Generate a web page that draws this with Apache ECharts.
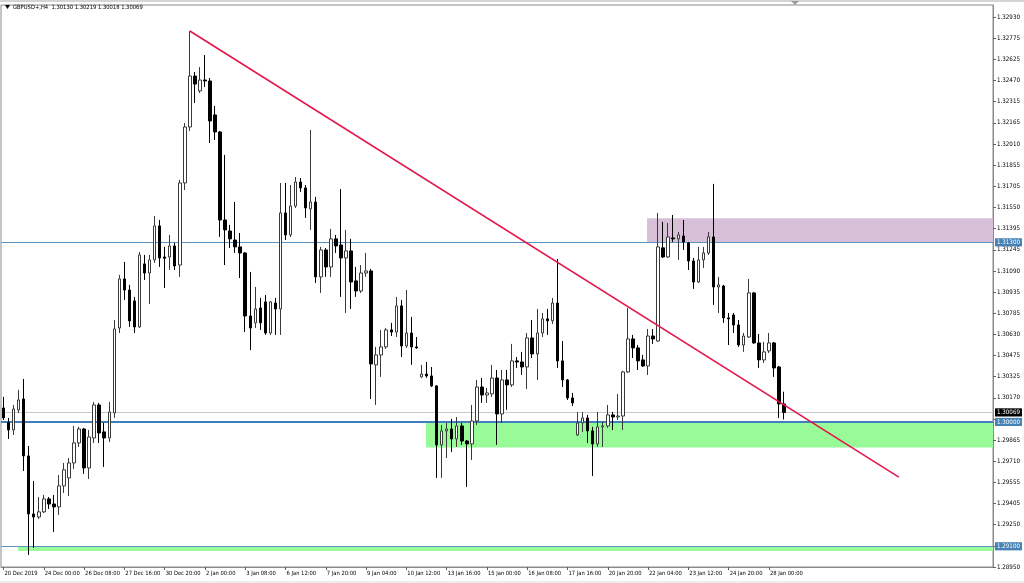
<!DOCTYPE html>
<html><head><meta charset="utf-8">
<script src="https://cdn.jsdelivr.net/npm/echarts@6/dist/echarts.min.js"></script>
<style>html,body{margin:0;padding:0;background:#fff;}#chart{width:1024px;height:583px;}</style>
</head><body><div id="chart"></div>
<script>
const symbolName = 'GBPUSD+,H4';
const xTickLabels = ['20 Dec 2019','24 Dec 00:00','26 Dec 08:00','27 Dec 16:00','30 Dec 20:00','2 Jan 00:00','3 Jan 08:00','6 Jan 12:00','7 Jan 20:00','9 Jan 04:00','10 Jan 12:00','13 Jan 16:00','15 Jan 00:00','16 Jan 08:00','17 Jan 16:00','20 Jan 20:00','22 Jan 04:00','23 Jan 12:00','24 Jan 20:00','28 Jan 00:00'];
const barsPerLabel = 8;
const yTickLabels = ['1.28950','','1.29250','1.29405','1.29555','1.29710','1.29865','','1.30170','1.30325','1.30475','1.30630','1.30785','1.30935','1.31090','1.31245','1.31395','1.31550','1.31705','1.31855','1.32010','1.32165','1.32315','1.32470','1.32625','1.32775','1.32930'];

const opens = [
1.30101,1.29995,1.29942,1.30087,1.30166,1.29754,1.29334,1.29312,1.29349,1.29443,
1.29406,1.29385,1.29537,1.29595,1.29703,1.29848,1.29949,1.29667,1.29884,1.30123,
1.29928,1.29884,1.30065,1.30680,1.31035,1.30955,1.30876,1.30688,1.31144,1.31078,
1.31173,1.31419,1.31194,1.31194,1.31274,1.31136,1.31730,1.32135,1.32504,1.32396,
1.32475,1.32468,1.32222,1.32099,1.31462,1.31382,1.31317,1.31267,1.31223,1.30767,
1.30717,1.30825,1.30869,1.30644,1.30861,1.30818,1.31513,1.31354,1.31563,1.31737,
1.31694,1.31542,1.31592,1.31050,1.31245,1.31122,1.31325,1.31281,1.31187,1.31238,
1.31021,1.30948,1.31078,1.31093,1.30413,1.30485,1.30543,1.30666,1.30651,1.30840,
1.30550,1.30644,1.30543,1.30326,1.30347,1.30333,1.30261,1.29834,1.29935,1.29949,
1.29877,1.29971,1.29862,1.29841,1.30007,1.30253,1.30195,1.30203,1.30318,1.30058,
1.30304,1.30268,1.30442,1.30434,1.30398,1.30608,1.30492,1.30644,1.30746,1.30732,
1.30861,1.30442,1.30304,1.30174,1.29906,1.29993,1.30029,1.29935,1.29841,1.29964,
1.29971,1.30051,1.30036,1.30043,1.30362,1.30601,1.30536,1.30449,1.30405,1.30622,
1.30586,1.31260,1.31194,1.31332,1.31325,1.31346,1.31296,1.31165,1.31013,1.31173,
1.31223,1.31339,1.30977,1.30984,1.30753,1.30774,1.30702,1.30557,1.30615,1.30934,
1.30572,1.30449,1.30514,1.30572,1.30398,1.30130];
const highs = [
1.30181,1.30029,1.30123,1.30232,1.30311,1.29826,1.29573,1.29457,1.29472,1.29457,
1.29472,1.29616,1.29703,1.29739,1.29971,1.29964,1.29957,1.29942,1.30145,1.30138,
1.29993,1.30145,1.30738,1.31064,1.31158,1.30992,1.30905,1.31230,1.31209,1.31209,
1.31491,1.31462,1.31267,1.31354,1.31296,1.31752,1.32164,1.32830,1.32533,1.32569,
1.32656,1.32490,1.32287,1.32106,1.31933,1.31426,1.31592,1.31368,1.31230,1.31086,
1.30977,1.30898,1.30919,1.30875,1.30898,1.31730,1.31730,1.31715,1.31773,1.31766,
1.31715,1.32113,1.31629,1.31267,1.31259,1.31397,1.31354,1.31686,1.31390,1.31325,
1.31122,1.31136,1.31223,1.31107,1.30543,1.30666,1.30680,1.30717,1.30905,1.30883,
1.30955,1.30760,1.30615,1.30413,1.30434,1.30398,1.30265,1.29978,1.29993,1.30022,
1.30036,1.29993,1.29870,1.30123,1.30304,1.30318,1.30246,1.30413,1.30376,1.30376,
1.30376,1.30565,1.30470,1.30507,1.30644,1.30738,1.30818,1.30789,1.30818,1.30898,
1.31180,1.30586,1.30311,1.30210,1.30072,1.30072,1.30051,1.29964,1.30072,1.30000,
1.30123,1.30072,1.30203,1.30370,1.30825,1.30630,1.30557,1.30485,1.30673,1.30673,
1.31513,1.31448,1.31440,1.31498,1.31375,1.31462,1.31303,1.31187,1.31267,1.31267,
1.31375,1.31723,1.31050,1.30992,1.30789,1.30789,1.30738,1.30644,1.31035,1.30941,
1.30637,1.30579,1.30644,1.30579,1.30405,1.30219];
const lows = [
1.30014,1.29877,1.29906,1.30065,1.29645,1.29037,1.29088,1.29298,1.29341,1.29370,
1.29204,1.29327,1.29486,1.29464,1.29660,1.29819,1.29624,1.29587,1.29848,1.29848,
1.29674,1.29855,1.30029,1.30644,1.30883,1.30688,1.30644,1.30680,1.31028,1.30854,
1.31151,1.31122,1.30970,1.31100,1.31100,1.31050,1.31679,1.32106,1.32309,1.32381,
1.32425,1.32019,1.32041,1.31339,1.31136,1.31259,1.31223,1.31042,1.30651,1.30521,
1.30680,1.30666,1.30630,1.30630,1.30630,1.30630,1.31317,1.31339,1.31549,1.31665,
1.31477,1.31390,1.31006,1.30934,1.31050,1.31050,1.31223,1.30905,1.30789,1.30818,
1.30905,1.30934,1.31050,1.30166,1.30123,1.30326,1.30528,1.30622,1.30615,1.30470,
1.30536,1.30413,1.30530,1.30320,1.30320,1.30253,1.29595,1.29595,1.29739,1.29783,
1.29819,1.29834,1.29530,1.29725,1.29978,1.30138,1.30138,1.30181,1.29834,1.29993,
1.30087,1.30253,1.30391,1.30340,1.30239,1.30463,1.30304,1.30615,1.30630,1.30709,
1.30391,1.30253,1.30159,1.30116,1.29899,1.29928,1.29848,1.29609,1.29819,1.29819,
1.29957,1.29942,1.30014,1.29942,1.30355,1.30463,1.30376,1.30398,1.30340,1.30565,
1.30580,1.31187,1.31187,1.31303,1.31173,1.31245,1.31100,1.30963,1.31006,1.31115,
1.31209,1.30847,1.30789,1.30717,1.30557,1.30644,1.30543,1.30507,1.30608,1.30565,
1.30391,1.30427,1.30499,1.30326,1.30029,1.30018];
const closes = [
1.30029,1.29942,1.30094,1.30159,1.29754,1.29334,1.29312,1.29349,1.29443,1.29406,
1.29385,1.29537,1.29653,1.29703,1.29848,1.29949,1.29667,1.29891,1.30123,1.29920,
1.29884,1.30072,1.30673,1.31035,1.30955,1.30731,1.30688,1.31209,1.31078,1.31173,
1.31419,1.31187,1.31185,1.31274,1.31129,1.31730,1.32135,1.32504,1.32446,1.32475,
1.32468,1.32179,1.32099,1.31462,1.31390,1.31325,1.31267,1.31223,1.30767,1.30680,
1.30818,1.30717,1.30644,1.30869,1.30818,1.31513,1.31354,1.31563,1.31737,1.31694,
1.31549,1.31592,1.31050,1.31245,1.31122,1.31325,1.31274,1.31187,1.31238,1.31013,
1.30948,1.31078,1.31093,1.30420,1.30485,1.30543,1.30666,1.30651,1.30840,1.30550,
1.30644,1.30543,1.30536,1.30347,1.30333,1.30261,1.29834,1.29935,1.29949,1.29877,
1.29971,1.29862,1.29841,1.30007,1.30253,1.30195,1.30210,1.30318,1.30058,1.30304,
1.30268,1.30442,1.30434,1.30398,1.30608,1.30492,1.30644,1.30746,1.30732,1.30861,
1.30442,1.30304,1.30174,1.30138,1.29993,1.30029,1.29935,1.29841,1.29964,1.29971,
1.30051,1.30036,1.30043,1.30362,1.30601,1.30536,1.30442,1.30405,1.30622,1.30601,
1.31267,1.31194,1.31339,1.31325,1.31354,1.31303,1.31165,1.31013,1.31173,1.31223,
1.31339,1.30977,1.30992,1.30753,1.30746,1.30702,1.30557,1.30622,1.30934,1.30572,
1.30449,1.30507,1.30572,1.30391,1.30130,1.30069];

const blueLevels = [1.31300, 1.30000, 1.29100];
const bidPrice = 1.30069;
const resistanceZone = {fromBar: 128.3, top: 1.31475, bottom: 1.31300};
const supportZone = {fromBar: 84.4, top: 1.30000, bottom: 1.29815};
const lowStrip = {fromBar: 3.4, top: 1.29100, bottom: 1.29065};
const trendStart = {bar: 37.5, price: 1.32830};
const trendEnd = {bar: 178.3, price: 1.29601};
const slotCount = 197;
const priceMin = 1.28950, priceMax = 1.33018, tickStep = 0.0015308;

// ---- font selection (installed fonts only) ----
const ctx = document.createElement('canvas').getContext('2d');
function hasFont(f) {
  const probe = '24 Dec 00:00 1.32930 GBPUSD';
  ctx.font = '40px monospace'; const a = ctx.measureText(probe).width;
  ctx.font = '40px "' + f + '", monospace'; const b = ctx.measureText(probe).width;
  return Math.abs(a - b) > 0.5;
}
const fam = ['Liberation Sans Narrow', 'DejaVu Sans Condensed', 'Liberation Sans'].find(hasFont) || 'sans-serif';
function fit(text, target, maxSize) {
  ctx.font = '100px "' + fam + '"';
  return Math.min(maxSize, 100 * target / ctx.measureText(text).width);
}
const fx = fit('24 Dec 00:00', 35, 7.5);
const fy = fit('1.32930', 23, 7.5);
const last = closes.length - 1;
const titleText = symbolName + '  ' + [opens[last], highs[last], lows[last], closes[last]].map(v => v.toFixed(5)).join(' ');
const ft = fit(titleText, 130, 7.5);

const categories = Array.from({length: slotCount}, (_, i) => String(i));
const candleData = opens.map((o, i) => [o, closes[i], lows[i], highs[i]]);
const showTick = (idx) => idx % barsPerLabel === 0 && idx / barsPerLabel < xTickLabels.length;

function lvlLabel(bg) {
  return {show: true, position: 'end', distance: 2, formatter: p => Number(p.value).toFixed(5),
    color: '#ffffff', backgroundColor: bg, padding: [1, 2, 0, 2], fontSize: fy, fontFamily: fam, lineHeight: fy + 1};
}

const chart = echarts.init(document.getElementById('chart'), null, {renderer: 'canvas'});
chart.setOption({
  animation: false,
  backgroundColor: '#ffffff',
  grid: {left: 1, right: 31, top: 5, bottom: 16, show: true, borderColor: '#8a8a8a', borderWidth: 1, containLabel: false},
  xAxis: [
    {type: 'category', data: categories, boundaryGap: true,
     axisLine: {show: true, lineStyle: {color: '#8a8a8a'}},
     axisTick: {show: true, interval: showTick, alignWithLabel: true, length: 3, lineStyle: {color: '#606060'}},
     axisLabel: {interval: showTick, formatter: (v, i) => xTickLabels[i / barsPerLabel] || '', align: 'left',
                 margin: 3, fontSize: fx, fontFamily: fam, color: '#000000', padding: [0, 0, 0, 1]},
     splitLine: {show: false}},
    {type: 'value', min: 0, max: slotCount, show: false}
  ],
  yAxis: [
    {type: 'value', min: priceMin, max: priceMax, show: false},
    {type: 'value', position: 'right', min: 0, max: (priceMax - priceMin) / tickStep, interval: 1,
     axisLine: {show: true, lineStyle: {color: '#8a8a8a'}},
     axisTick: {show: true, length: 3, lineStyle: {color: '#606060'}},
     axisLabel: {margin: 4, fontSize: fy, fontFamily: fam, color: '#000000', showMaxLabel: false, showMinLabel: true, hideOverlap: false,
       formatter: v => { const k = Math.round(v); return Math.abs(v - k) < 1e-6 ? (yTickLabels[k] || '') : ''; }},
     splitLine: {show: false}}
  ],
  series: [
    {type: 'line', name: 'levels', xAxisIndex: 1, yAxisIndex: 0, data: [], silent: true, z: 1,
     markArea: {silent: true, z: 1, data: [
       [{xAxis: resistanceZone.fromBar, yAxis: resistanceZone.top, itemStyle: {color: '#d8bfd8'}}, {xAxis: slotCount, yAxis: resistanceZone.bottom}],
       [{xAxis: supportZone.fromBar, yAxis: supportZone.top, itemStyle: {color: '#98fb98'}}, {xAxis: slotCount, yAxis: supportZone.bottom}],
       [{xAxis: lowStrip.fromBar, yAxis: lowStrip.top, itemStyle: {color: '#98fb98'}}, {xAxis: slotCount, yAxis: lowStrip.bottom}]
     ]},
     markLine: {silent: true, z: 1, precision: 5, symbol: ['none', 'none'], data: [
       {yAxis: blueLevels[0], lineStyle: {color: '#5b93c7', width: 1, type: 'solid'}, label: lvlLabel('#4682b4')},
       {yAxis: bidPrice, lineStyle: {color: '#c8c8c8', width: 1, type: 'solid'}, label: lvlLabel('#000000')},
       {yAxis: blueLevels[1], lineStyle: {color: '#3f7fbf', width: 2, type: 'solid'}, label: lvlLabel('#4682b4')},
       {yAxis: blueLevels[2], lineStyle: {color: '#5b93c7', width: 1, type: 'solid'}, label: lvlLabel('#4682b4')}
     ]}},
    {type: 'candlestick', name: symbolName, xAxisIndex: 0, yAxisIndex: 0, data: candleData, z: 2, barWidth: 3,
     itemStyle: {color: '#ffffff', color0: '#000000', borderColor: '#3a3a3a', borderColor0: '#000000', borderColorDoji: '#3a3a3a', borderWidth: 1}},
    {type: 'line', name: 'trend', xAxisIndex: 1, yAxisIndex: 0, z: 3, symbol: 'none', silent: true,
     data: [[trendStart.bar, trendStart.price], [trendEnd.bar, trendEnd.price]],
     lineStyle: {color: '#e3174b', width: 1.6}}
  ],
  graphic: [
    {type: 'rect', shape: {x: 0, y: 0, width: 1024, height: 2}, style: {fill: '#d4d4d4'}, silent: true},
    {type: 'rect', shape: {x: 0, y: 581, width: 1024, height: 2}, style: {fill: '#ececec'}, silent: true},
    {type: 'polygon', shape: {points: [[5, 5], [10, 5], [7.5, 9]]}, style: {fill: '#000000'}, silent: true},
    {type: 'polygon', shape: {points: [[791, 1], [799, 1], [795, 5]]}, style: {fill: '#9a9a9a'}, silent: true},
    {type: 'text', x: 13, y: 7, style: {text: titleText, fill: '#000000', font: ft + 'px "' + fam + '"', textVerticalAlign: 'middle', verticalAlign: 'middle'}, silent: true, z: 10}
  ]
});
</script></body></html>
